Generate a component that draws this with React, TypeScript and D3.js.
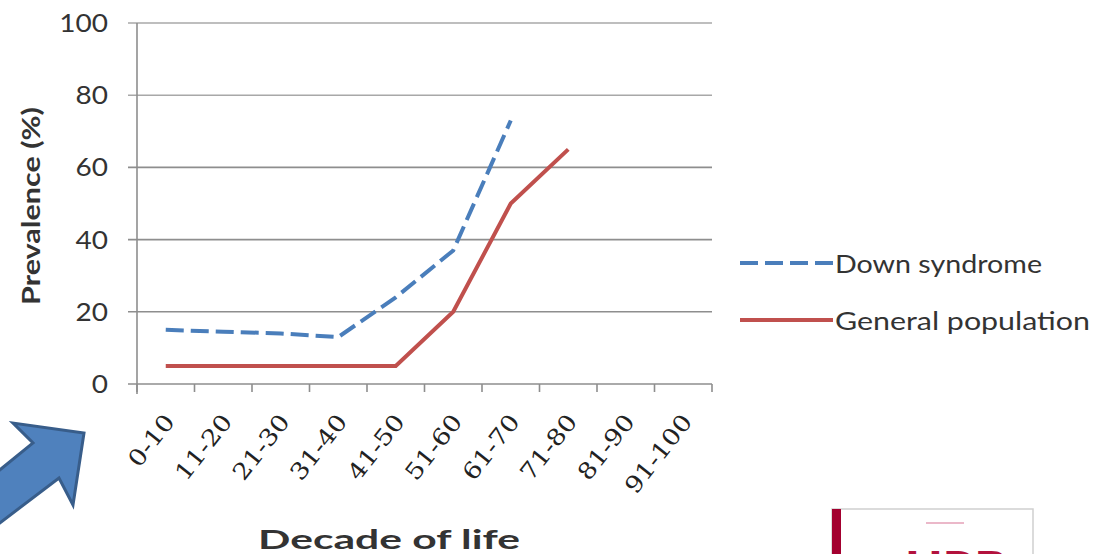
import React from "react";
import * as d3 from "d3";

// Decades of life on the x axis
const decades = ["0-10", "11-20", "21-30", "31-40", "41-50", "51-60", "61-70", "71-80", "81-90", "91-100"];
// Prevalence (%) per decade; null where no value is reported
const downSyndrome: (number | null)[] = [15, 14.5, 14, 13, 24, 37, 73, null, null, null];
const generalPopulation: (number | null)[] = [5, 5, 5, 5, 5, 20, 50, 65, null, null];
const yTicks = [0, 20, 40, 60, 80, 100];

const seriesNames = ["Down syndrome", "General population"];

const W = 1108;
const H = 554;
const plot = { left: 137, right: 712, top: 23, bottom: 384 };

const BLUE = "#4a7ebb";
const RED = "#c0504d";
const GRID = "#8e8e8e";
const TEXT = "#333333";
const SANS = "Lato, 'Open Sans', sans-serif";
const SERIF = "'DejaVu Serif', 'Liberation Serif', serif";

export default function App() {
  const x = d3.scaleBand<string>().domain(decades).range([plot.left, plot.right]).padding(0);
  const y = d3.scaleLinear().domain([0, 100]).range([plot.bottom, plot.top]);
  const bw = x.bandwidth();
  const cx = (d: string) => (x(d) as number) + bw / 2;

  const line = d3
    .line<number | null>()
    .defined((v) => v !== null)
    .x((_, i) => cx(decades[i]))
    .y((v) => y(v as number));

  const boundaries = d3.range(decades.length + 1).map((i) => plot.left + i * bw);

  // block arrow outline, pointing up-right
  const arrow = [
    [-20, 486], [33, 443], [13, 423], [84, 433], [73, 505], [59, 478], [-20, 538],
  ];

  return (
    <svg
      width={W}
      height={H}
      viewBox={`0 0 ${W} ${H}`}
      style={{ position: "absolute", left: 0, top: 0, background: "#fff" }}
    >
      <rect x={0} y={0} width={W} height={H} fill="#fff" />

      {/* horizontal gridlines with y-axis ticks */}
      {yTicks.map((t) => (
        <line
          key={t}
          x1={128}
          x2={plot.right}
          y1={y(t)}
          y2={y(t)}
          stroke={t >= 80 ? "#a8a8a8" : GRID}
          strokeWidth={1.6}
        />
      ))}
      {/* y axis */}
      <line x1={plot.left} x2={plot.left} y1={plot.top} y2={plot.bottom + 10} stroke={GRID} strokeWidth={1.6} />
      {/* x-axis ticks at band boundaries */}
      {boundaries.map((bx, i) => (
        <line key={i} x1={bx} x2={bx} y1={plot.bottom} y2={plot.bottom + 8} stroke={GRID} strokeWidth={1.6} />
      ))}

      {/* y tick labels */}
      {yTicks.map((t) => (
        <text
          key={t}
          transform={`translate(108,${y(t)}) scale(1.12,1)`}
          textAnchor="end"
          dy="0.36em"
          fontFamily={SANS}
          fontSize={25}
          fill={TEXT}
        >
          {t}
        </text>
      ))}

      {/* x tick labels, rotated */}
      {decades.map((d) => (
        <text
          key={d}
          transform={`translate(${cx(d) + 10},422) rotate(-52) scale(1.15,1)`}
          textAnchor="end"
          fontFamily={SERIF}
          fontSize={23}
          fill="#222"
        >
          {d}
        </text>
      ))}

      {/* axis titles */}
      <text
        transform="translate(40,206) rotate(-90)"
        textAnchor="middle"
        fontFamily={SANS}
        fontWeight={700}
        fontSize={25}
        fill={TEXT}
        textLength={198}
        lengthAdjust="spacingAndGlyphs"
      >
        Prevalence (%)
      </text>
      <text
        x={389}
        y={549}
        textAnchor="middle"
        fontFamily={SANS}
        fontWeight={700}
        fontSize={27}
        fill={TEXT}
        textLength={262}
        lengthAdjust="spacingAndGlyphs"
      >
        Decade of life
      </text>

      {/* series */}
      <path d={line(downSyndrome) || ""} fill="none" stroke={BLUE} strokeWidth={4} strokeDasharray="18 7" />
      <path d={line(generalPopulation) || ""} fill="none" stroke={RED} strokeWidth={4} />

      {/* legend */}
      <line x1={740} x2={833} y1={263} y2={263} stroke={BLUE} strokeWidth={4} strokeDasharray="18 7" />
      <text
        x={835}
        y={273}
        fontFamily={SANS}
        fontSize={25}
        fill={TEXT}
        textLength={207}
        lengthAdjust="spacingAndGlyphs"
      >
        {seriesNames[0]}
      </text>
      <line x1={740} x2={833} y1={320} y2={320} stroke={RED} strokeWidth={4} />
      <text
        x={835}
        y={330}
        fontFamily={SANS}
        fontSize={25}
        fill={TEXT}
        textLength={255}
        lengthAdjust="spacingAndGlyphs"
      >
        {seriesNames[1]}
      </text>

      {/* block arrow */}
      <polygon
        points={arrow.map((p) => p.join(",")).join(" ")}
        fill="#4f81bd"
        stroke="#385d8a"
        strokeWidth={3}
        strokeLinejoin="miter"
      />

      {/* publisher badge, bottom right */}
      <g>
        <rect x={832} y={509} width={201} height={60} fill="#fff" stroke="#cfcfcf" strokeWidth={1.5} />
        <rect x={832} y={509} width={9} height={60} fill="#a3002f" />
        <line x1={926} x2={964} y1={523} y2={523} stroke="#ebb8c9" strokeWidth={2} />
        <text
          x={905}
          y={582}
          fontFamily={SANS}
          fontWeight={900}
          fontSize={42}
          fill="#b3123d"
          textLength={102}
          lengthAdjust="spacingAndGlyphs"
        >
          HRB
        </text>
      </g>
    </svg>
  );
}
